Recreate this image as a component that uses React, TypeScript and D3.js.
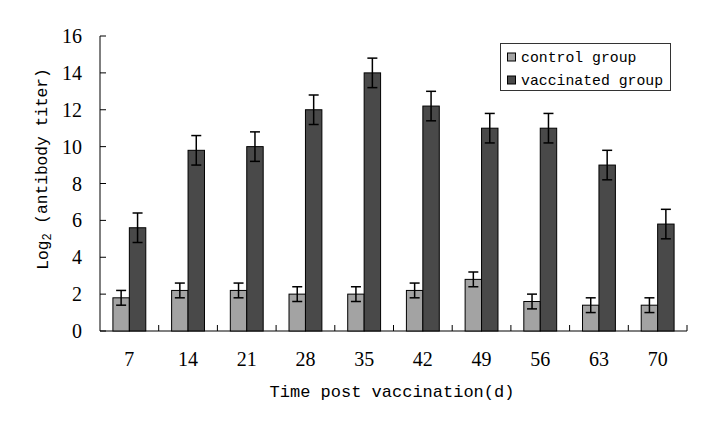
import React from 'react';
import * as d3 from 'd3';

const days = ['7', '14', '21', '28', '35', '42', '49', '56', '63', '70'];
const controlMean = [1.8, 2.2, 2.2, 2.0, 2.0, 2.2, 2.8, 1.6, 1.4, 1.4];
const controlErr = [0.4, 0.4, 0.4, 0.4, 0.4, 0.4, 0.4, 0.4, 0.4, 0.4];
const vaccMean = [5.6, 9.8, 10.0, 12.0, 14.0, 12.2, 11.0, 11.0, 9.0, 5.8];
const vaccErr = [0.8, 0.8, 0.8, 0.8, 0.8, 0.8, 0.8, 0.8, 0.8, 0.8];
const yTicks = [0, 2, 4, 6, 8, 10, 12, 14, 16];
const seriesNames = ['control group', 'vaccinated group'];
const seriesColors = ['#a3a3a3', '#494949'];

const serif = '"Liberation Serif", "DejaVu Serif", serif';
const mono = '"Liberation Mono", "DejaVu Sans Mono", monospace';

export default function App() {
  const left = 100, right = 687, top = 36, bottom = 331;
  const x = d3.scaleBand().domain(days).range([left, right]).padding(0);
  const y = d3.scaleLinear().domain([0, 16]).range([bottom, top]);
  const bw = x.bandwidth() * 0.28;
  const capW = 10;

  const series = [
    { mean: controlMean, err: controlErr, color: seriesColors[0], off: -bw },
    { mean: vaccMean, err: vaccErr, color: seriesColors[1], off: 0 },
  ];

  return (
    <svg width={716} height={421} style={{ position: 'absolute', left: 0, top: 0, background: '#fff' }}>
      {/* y axis */}
      <line x1={left} x2={left} y1={top} y2={bottom} stroke="#000" />
      {yTicks.map((t) => (
        <g key={t}>
          <line x1={left} x2={left + 6} y1={y(t)} y2={y(t)} stroke="#000" />
          <text x={82} y={y(t)} dy="0.35em" textAnchor="end" fontFamily={serif} fontSize={20}>{t}</text>
        </g>
      ))}
      {/* x axis */}
      <line x1={left} x2={right} y1={bottom} y2={bottom} stroke="#000" />
      {days.map((d, i) => (
        <g key={d}>
          {i > 0 && <line x1={x(d)!} x2={x(d)!} y1={bottom} y2={bottom - 6} stroke="#000" />}
          <text x={x(d)! + x.bandwidth() / 2} y={359} dy="0.35em" textAnchor="middle" fontFamily={serif} fontSize={20}>{d}</text>
        </g>
      ))}
      <line x1={right} x2={right} y1={bottom} y2={bottom - 6} stroke="#000" />

      {/* bars */}
      {series.map((s, si) => (
        <g key={si}>
          {days.map((d, i) => {
            const cx = x(d)! + x.bandwidth() / 2 + s.off;
            const yt = y(s.mean[i]);
            const ex = cx + bw / 2;
            return (
              <g key={d}>
                <rect x={cx} y={yt} width={bw} height={bottom - yt} fill={s.color} stroke="#000" strokeWidth={1} />
                <line x1={ex} x2={ex} y1={y(s.mean[i] + s.err[i])} y2={y(s.mean[i] - s.err[i])} stroke="#000" strokeWidth={1.5} />
                <line x1={ex - capW / 2} x2={ex + capW / 2} y1={y(s.mean[i] + s.err[i])} y2={y(s.mean[i] + s.err[i])} stroke="#000" strokeWidth={1.5} />
                <line x1={ex - capW / 2} x2={ex + capW / 2} y1={y(s.mean[i] - s.err[i])} y2={y(s.mean[i] - s.err[i])} stroke="#000" strokeWidth={1.5} />
              </g>
            );
          })}
        </g>
      ))}

      {/* axis titles */}
      <text x={392} y={391} dy="0.35em" textAnchor="middle" fontFamily={mono} fontSize={17}>Time post vaccination(d)</text>
      <text transform="translate(42,169) rotate(-90)" dy="0.35em" textAnchor="middle" fontFamily={mono} fontSize={16.2}>
        Log<tspan fontSize={12} dy="0.25em">2</tspan><tspan dy="-0.25em"> (antibody titer)</tspan>
      </text>

      {/* legend */}
      <rect x={500.5} y={43.5} width={170} height={47} fill="#fff" stroke="#333" />
      {seriesNames.map((n, i) => (
        <g key={n}>
          <rect x={507.5} y={53 + i * 23} width={8} height={8} fill={seriesColors[i]} stroke="#000" />
          <text x={521} y={57 + i * 23} dy="0.35em" fontFamily={mono} fontSize={14.8}>{n}</text>
        </g>
      ))}
    </svg>
  );
}
